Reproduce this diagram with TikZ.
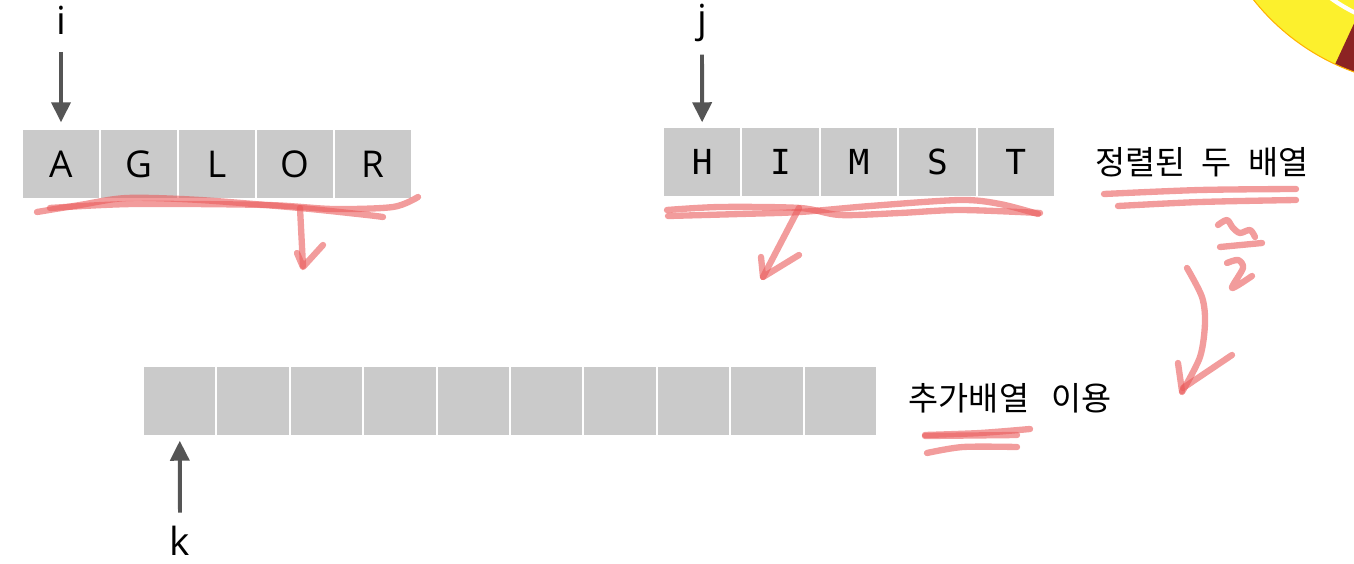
\documentclass[tikz,border=0pt]{standalone}
\usepackage{fontspec}
\setmainfont{Open Sans}
\newfontfamily\monofont{DejaVu Sans Mono}
\newfontfamily\kofont{Noto Sans CJK KR}
\usetikzlibrary{%
  arrows.meta
}
\definecolor{cellgray}{RGB}{202,202,202}
\definecolor{ptrgray}{RGB}{85,85,85}
\definecolor{pen}{RGB}{234,90,90}
\definecolor{sunyellow}{RGB}{252,240,45}
\definecolor{sunred}{RGB}{140,35,35}
\tikzstyle{cell}=[fill=cellgray,inner sep=0pt,minimum height=0.68cm,font=\fontsize{10.5}{12}\selectfont]
\tikzstyle{ptr}=[draw=ptrgray,line width=1.1pt,-{Triangle[width=0.19cm,length=0.2cm]}]
\tikzstyle{hand}=[draw=pen,opacity=0.6,line width=1.8pt,line cap=round,line join=round]

\begin{document}
\begin{tikzpicture}[x=0.01cm,y=-0.01cm,%
  every node/.style={inner sep=0pt}]
\tikzstyle{idx} = [font=\fontsize{11}{13}\selectfont]
\tikzstyle{ko} = [font=\kofont\fontsize{9.3}{11}\selectfont]
\useasboundingbox (0,0) rectangle (1354,564);
% corner of the badge
\begin{scope}
\clip (0,0) rectangle (1354,564);
\fill[sunyellow] (1430,-140) circle[radius=2.25cm];
\begin{scope}
\clip (1430,-140) circle[radius=2.25cm];
\fill[sunred] (1430,-140) -- (1298,144) -- (1560,144) -- cycle;
\end{scope}
\fill[sunyellow] (1430,-140) circle[radius=1.75cm];
\draw[white,line width=1.2pt] (1430,-140) circle[radius=1.7cm];
\draw[orange!60!yellow,line width=0.3pt] (1430,-140) circle[radius=2.25cm];
\end{scope}
% arrays
\foreach \ch [count=\n] in {A,G,L,O,R}
  \node[cell,minimum width=0.76cm](a\n)at({-17+78*\n},164){\ch};
\foreach \ch [count=\n] in {H,I,M,S,T}
  \node[cell,minimum width=0.764cm](b\n)at({623.8+78.4*\n},162){\monofont\fontsize{9.8}{11}\selectfont\ch};
\foreach \n in {1,...,10}
  \node[cell,minimum width=0.714cm](c\n)at({106.3+73.4*\n},401){};
% pointers
\node[idx](li)at(61,20){i};
\node[idx](lj)at(702,23){j};
\node[idx](lk)at(180,541){k};
\draw[ptr,shorten <=0.17cm,shorten >=0.07cm] (li) -- (a1);
\draw[ptr,shorten <=0.12cm,shorten >=0.05cm] (lj) -- (b1);
\draw[ptr,shorten <=0.13cm,shorten >=0.05cm] (lk) -- (c1);
\node[ko](sorted)at(1202,162){정렬된\hspace{0.16cm}두\hspace{0.16cm}배열};
\node[ko](extra)at(1010,398){추가배열\hspace{0.22cm}이용};
% pen marks
\draw[hand] plot[smooth] coordinates {(37,212) (80,205) (127,198) (200,200) (300,208) (367,215) (383,217)};
\draw[hand] plot[smooth] coordinates {(50,208) (133,204) (267,205) (333,209) (393,207) (418,197)};
\draw[hand] (300,208) -- (303,266);
\draw[hand] (297,253) -- (303,267) -- (323,245);
\draw[hand] plot[smooth] coordinates {(667,210) (720,207) (800,208) (840,215) (900,213) (960,210) (1040,213)};
\draw[hand] plot[smooth] coordinates {(668,216) (740,214) (800,212) (870,206) (960,200) (1000,204) (1038,214)};
\draw[hand] (799,208) -- (763,277);
\draw[hand] (761,257) -- (763,277) -- (799,255);
\draw[hand] plot[smooth] coordinates {(1104,194) (1200,190) (1296,189)};
\draw[hand] plot[smooth] coordinates {(1118,206) (1200,202) (1296,200)};
\draw[hand] plot[smooth] coordinates {(1218,225) (1227,220) (1233,228) (1240,233) (1250,230) (1255,237)};
\draw[hand] (1220,247) -- (1262,243);
\draw[hand] plot[smooth] coordinates {(1227,263) (1238,260) (1243,268) (1232,288) (1252,276)};
\draw[hand] plot[smooth] coordinates {(1187,268) (1202,297) (1205,323) (1200,357) (1182,392)};
\draw[hand] (1232,355) -- (1183,388);
\draw[hand] (1178,363) -- (1182,391);
\draw[hand] plot[smooth] coordinates {(925,435) (980,433) (1030,429)};
\draw[hand] (925,436) -- (1017,435);
\draw[hand] plot[smooth] coordinates {(927,453) (963,447) (1017,447)};
\end{tikzpicture}
\end{document}
